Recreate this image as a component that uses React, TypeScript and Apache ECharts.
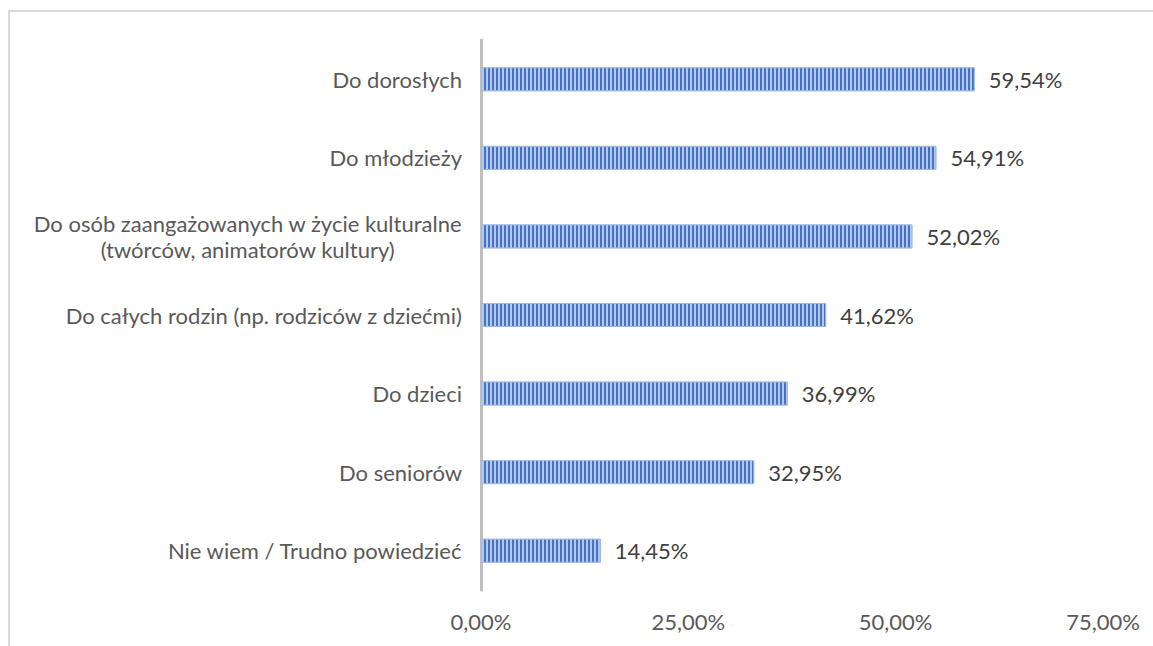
import React, { useEffect, useRef } from "react";
import * as echarts from "echarts";

const categories: string[] = [
  "Do dorosłych",
  "Do młodzieży",
  "Do osób zaangażowanych w życie kulturalne\n(twórców, animatorów kultury)",
  "Do całych rodzin (np. rodziców z dziećmi)",
  "Do dzieci",
  "Do seniorów",
  "Nie wiem / Trudno powiedzieć",
];
const values: number[] = [59.54, 54.91, 52.02, 41.62, 36.99, 32.95, 14.45];
const axisMin = 0;
const axisMax = 75;
const axisStep = 25;

const fmt = (v: number) => v.toFixed(2).replace(".", ",") + "%";

export default function App() {
  const ref = useRef<HTMLDivElement>(null);
  useEffect(() => {
    if (!ref.current) return;
    const chart = echarts.init(ref.current, null, { renderer: "svg" });
    const font = "Lato, 'Open Sans', sans-serif";
    chart.setOption({
      animation: false,
      backgroundColor: "#ffffff",
      graphic: [
        {
          type: "rect",
          shape: { x: 9, y: 11, width: 1200, height: 700 },
          style: { fill: "none", stroke: "#D9D9D9", lineWidth: 2 },
          silent: true,
        },
      ],
      grid: { left: 481, top: 40, width: 622, height: 550, containLabel: false },
      xAxis: {
        type: "value",
        min: axisMin,
        max: axisMax,
        interval: axisStep,
        splitLine: { show: false },
        axisLine: { show: false },
        axisTick: { show: false },
        axisLabel: {
          formatter: (v: number) => fmt(v),
          color: "#595959",
          fontFamily: font,
          fontSize: 22,
          margin: 20,
        },
      },
      yAxis: {
        type: "category",
        data: categories,
        inverse: true,
        axisTick: { show: false },
        axisLine: { show: true, lineStyle: { color: "#BFBFBF", width: 3 } },
        axisLabel: {
          color: "#595959",
          fontFamily: font,
          fontSize: 22,
          margin: 19,
          lineHeight: 26,
          align: "right",
          formatter: (v: string) =>
            v
              .split("\n")
              .map((l) => "{c|" + l + "}")
              .join("\n"),
          rich: {
            c: {
              align: "center",
              color: "#595959",
              fontFamily: font,
              fontSize: 22,
              lineHeight: 26,
            },
          },
        },
      },
      series: [
        {
          type: "bar",
          data: values,
          barWidth: 24,
          itemStyle: {
            color: "#B4C7EC",
            borderColor: "#A4BBE6",
            borderWidth: 1,
            decal: {
              symbol: "rect",
              symbolSize: 1,
              color: "#4472C4",
              dashArrayX: [1.8, 1.7],
              dashArrayY: [4, 0],
              rotation: 0,
            },
          },
          label: {
            show: true,
            position: "right",
            distance: 14,
            formatter: (p: any) => fmt(p.value),
            color: "#404040",
            fontFamily: font,
            fontSize: 22,
          },
        },
      ],
    });
    return () => chart.dispose();
  }, []);
  return (
    <div
      ref={ref}
      style={{ position: "fixed", left: 0, top: 0, width: 1153, height: 646 }}
    />
  );
}
